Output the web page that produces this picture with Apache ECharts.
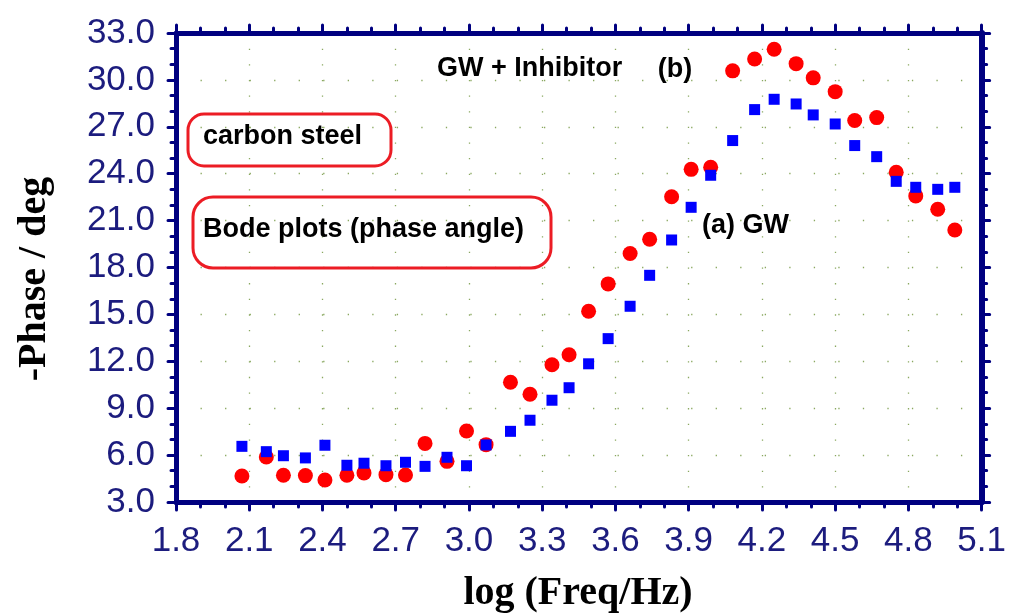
<!DOCTYPE html>
<html>
<head>
<meta charset="utf-8">
<script src="https://cdn.jsdelivr.net/npm/echarts@6/dist/echarts.min.js"></script>
<style>html,body{margin:0;padding:0;background:#fff;}#c{width:1009px;height:615px;}</style>
</head>
<body>
<div id="c"></div>
<script>
// log(Freq/Hz) for each measured point
const logFreq = [2.07, 2.17, 2.24, 2.33, 2.41, 2.50, 2.57, 2.66, 2.74, 2.82, 2.91, 2.99, 3.07, 3.17, 3.25, 3.34, 3.41, 3.49, 3.57, 3.66, 3.74, 3.83, 3.91, 3.99, 4.08, 4.17, 4.25, 4.34, 4.41, 4.50, 4.58, 4.67, 4.75, 4.83, 4.92, 4.99];
// (b) GW + Inhibitor, -phase (deg)
const phaseInhibitor = [4.66, 5.88, 4.71, 4.69, 4.41, 4.71, 4.86, 4.75, 4.73, 6.75, 5.60, 7.54, 6.67, 10.66, 9.89, 11.78, 12.42, 15.2, 16.95, 18.9, 19.81, 22.53, 24.28, 24.41, 30.58, 31.34, 31.96, 31.04, 30.13, 29.25, 27.40, 27.59, 24.09, 22.58, 21.73, 20.40];
// (a) GW, -phase (deg)
const phaseGW = [6.56, 6.22, 5.96, 5.82, 6.63, 5.35, 5.48, 5.32, 5.54, 5.28, 5.86, 5.32, 6.65, 7.52, 8.23, 9.51, 10.31, 11.84, 13.45, 15.52, 17.5, 19.76, 21.85, 23.90, 26.12, 28.10, 28.76, 28.46, 27.76, 27.18, 25.80, 25.09, 23.51, 23.13, 23.0, 23.13];
// axis ranges / tick labels
const xTicks = [1.8, 2.1, 2.4, 2.7, 3.0, 3.3, 3.6, 3.9, 4.2, 4.5, 4.8, 5.1];
const yTicks = [3.0, 6.0, 9.0, 12.0, 15.0, 18.0, 21.0, 24.0, 27.0, 30.0, 33.0];

const NAVY = '#000080';
const LABEL = '#1c1c7e';
const GRIDC = '#8aa860';

function pairs(xs, ys) { return xs.map((x, i) => [x, ys[i]]); }

const chart = echarts.init(document.getElementById('c'), null, {renderer: 'canvas'});

const axisCommon = {
  axisLine: {show: true, onZero: false, lineStyle: {color: NAVY, width: 5}},
  axisTick: {show: true, inside: false, length: 8, lineStyle: {color: NAVY, width: 3, cap: 'round'}},
  minorTick: {show: true, splitNumber: 3, length: 5, lineStyle: {color: NAVY, width: 3, cap: 'round'}},
};

const option = {
  animation: false,
  backgroundColor: '#ffffff',
  grid: {left: 176, right: 24, top: 33, bottom: 113, containLabel: false},
  xAxis: [
    Object.assign({}, axisCommon, {
      type: 'value', position: 'bottom',
      min: xTicks[0], max: xTicks[xTicks.length - 1], interval: 0.3,
      axisLabel: {show: true, margin: 22, color: LABEL, fontSize: 35, fontFamily: 'Liberation Sans, Arial, sans-serif',
        formatter: v => v.toFixed(1)},
      splitLine: {show: true, lineStyle: {color: GRIDC, width: 1.3, type: [1.3, 14.33]}}
    }),
    Object.assign({}, axisCommon, {
      type: 'value', position: 'top',
      min: xTicks[0], max: xTicks[xTicks.length - 1], interval: 0.3,
      axisLabel: {show: false}, splitLine: {show: false}
    })
  ],
  yAxis: [
    Object.assign({}, axisCommon, {
      type: 'value', position: 'left',
      min: yTicks[0], max: yTicks[yTicks.length - 1], interval: 3,
      axisLabel: {show: true, margin: 21, color: LABEL, fontSize: 35, fontFamily: 'Liberation Sans, Arial, sans-serif',
        formatter: v => v.toFixed(1)},
      splitLine: {show: true, lineStyle: {color: GRIDC, width: 1.3, type: [1.3, 23.23]}}
    }),
    Object.assign({}, axisCommon, {
      type: 'value', position: 'right',
      min: yTicks[0], max: yTicks[yTicks.length - 1], interval: 3,
      axisLine: {show: true, onZero: false, lineStyle: {color: NAVY, width: 6}},
      axisLabel: {show: false}, splitLine: {show: false}
    })
  ],
  series: [
    {
      name: 'GW + Inhibitor', type: 'scatter', xAxisIndex: 0, yAxisIndex: 0,
      symbol: 'circle', symbolSize: 15,
      itemStyle: {color: '#ff0000', opacity: 1},
      data: pairs(logFreq, phaseInhibitor), z: 3
    },
    {
      name: 'GW', type: 'scatter', xAxisIndex: 0, yAxisIndex: 0,
      symbol: 'rect', symbolSize: 11,
      itemStyle: {color: '#0000ff', opacity: 1},
      data: pairs(logFreq, phaseGW), z: 4
    }
  ],
  graphic: [
    {type: 'text', x: 35, y: 279, rotation: Math.PI / 2,
      style: {text: '-Phase / deg', fill: '#000', font: 'bold 40px "Liberation Serif", "Times New Roman", serif', align: 'center', verticalAlign: 'middle'}},
    {type: 'text', x: 578, y: 594,
      style: {text: 'log (Freq/Hz)', fill: '#000', font: 'bold 40px "Liberation Serif", "Times New Roman", serif', align: 'center', verticalAlign: 'middle'}},
    {type: 'text', x: 437, y: 69, z: 10,
      style: {text: 'GW + Inhibitor', fill: '#000', font: 'bold 27px "Liberation Sans", Arial, sans-serif', align: 'left', verticalAlign: 'middle'}},
    {type: 'text', x: 675, y: 70, z: 10,
      style: {text: '(b)', fill: '#000', font: 'bold 27px "Liberation Sans", Arial, sans-serif', align: 'center', verticalAlign: 'middle'}},
    {type: 'text', x: 702, y: 226, z: 10,
      style: {text: '(a) GW', fill: '#000', font: 'bold 27px "Liberation Sans", Arial, sans-serif', align: 'left', verticalAlign: 'middle'}},
    {type: 'rect', z: 10, shape: {x: 188, y: 114, width: 203, height: 52, r: 16},
      style: {fill: null, stroke: '#ec1c24', lineWidth: 3}},
    {type: 'text', x: 203, y: 137, z: 11,
      style: {text: 'carbon steel', fill: '#000', font: 'bold 27px "Liberation Sans", Arial, sans-serif', align: 'left', verticalAlign: 'middle'}},
    {type: 'rect', z: 10, shape: {x: 193, y: 197, width: 358, height: 71, r: 20},
      style: {fill: null, stroke: '#ec1c24', lineWidth: 3}},
    {type: 'text', x: 203, y: 230, z: 11,
      style: {text: 'Bode plots (phase angle)', fill: '#000', font: 'bold 27px "Liberation Sans", Arial, sans-serif', align: 'left', verticalAlign: 'middle'}}
  ]
};
chart.setOption(option);
</script>
</body>
</html>
